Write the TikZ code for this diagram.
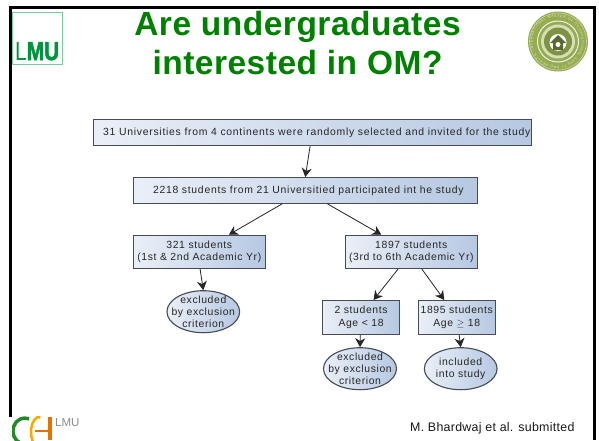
\documentclass[tikz,border=0pt]{standalone}
\usepackage{fontspec}
\usepackage{graphicx}
\setmainfont{Liberation Sans}
\newfontfamily\titlefont[LetterSpace=1.5]{Liberation Sans}
\newfontfamily\footfont[LetterSpace=2.3]{Liberation Sans}
\newfontfamily\flowfont[LetterSpace=6]{Liberation Sans}
\newfontfamily\flowwide[LetterSpace=7]{Liberation Sans}
\newfontfamily\lmuheavy[UprightFont=* Bold,FakeBold=2]{Liberation Sans}
\usetikzlibrary{calc,arrows.meta,shapes.geometric,decorations.text}
\definecolor{titlegreen}{RGB}{0,128,0}
\definecolor{lmugreen}{RGB}{0,148,64}
\definecolor{boxL}{RGB}{234,239,247}
\definecolor{boxR}{RGB}{182,200,226}
\definecolor{boxedge}{RGB}{70,75,85}
\definecolor{sealgreen}{RGB}{150,172,80}
\tikzset{
  flowbox/.style={draw=boxedge,line width=1.1pt,left color=boxL,right color=boxR,inner sep=0pt,anchor=north west,align=center,font=\flowfont\fontsize{10.4}{12.4}\selectfont,text=black!85},
  widebox/.style={flowbox,font=\flowwide\fontsize{10.4}{12.4}\selectfont},
  flowell/.style={ellipse,draw=boxedge,line width=1.1pt,left color=boxL,right color=boxR,inner xsep=-8pt,inner ysep=-6pt,align=center,font=\flowfont\fontsize{10.4}{12.3}\selectfont,text=black!85},
  flowarrow/.style={draw=black!85,line width=0.8pt,-{Stealth[length=9pt,width=10pt]}},
  titletext/.style={text=titlegreen,font=\titlefont\bfseries\fontsize{33.5}{33.5}\selectfont,inner sep=0pt,anchor=base}
}
\begin{document}
\begin{tikzpicture}[x=1pt,y=-1pt]
\useasboundingbox (0,0) rectangle (599,440);
\fill[white] (0,0) rectangle (599,440);
% slide frame
\fill[black] (9,6) rectangle (596,8.5);
\fill[black] (9,6) rectangle (12,417);
\fill[black] (592.8,6) rectangle (596,440);
% title
\node[titletext] (t1) at (297.5,35) {Are undergraduates};
\node[titletext] (t2) at (297.5,74) {interested in OM?};
% LMU logo
\node[draw=lmugreen!50,line width=0.7pt,minimum width=50pt,minimum height=51.5pt,inner sep=0pt] (lmubox) at (37.7,38.3) {};
\node[text=lmugreen,inner sep=0pt,anchor=south west] (lmutext) at (15,60.5) {\resizebox{44pt}{18pt}{\fontsize{24}{24}\selectfont L\lmuheavy MU}};
% seal
\fill[sealgreen] (558,41.5) circle (30);
\draw[white!50!sealgreen,line width=0.6pt] (558,41.5) circle (28.5);
\draw[white!85!sealgreen,line width=1pt] (558,41.5) circle (20.5);
\path[decorate,decoration={text along path,text align=fit to path,text={|\fontsize{3.4}{4}\selectfont\color{white!75!sealgreen}|INTERNATIONAL MASTER OF OCCUPATIONAL SAFETY AND HEALTH}}] (534,50) arc[start angle=160,end angle=510,radius=24.5];
\fill[white!60!sealgreen] (558,41.5) circle (17);
\fill[sealgreen!85!black] (558,41.5) circle (14);
\fill[white] (558,42.5) circle (8.5);
\fill[sealgreen!60!black] (550,43) -- (558,35) -- (566,43) -- (563,43) -- (563,50) -- (553,50) -- (553,43) -- cycle;
\fill[white] (558,44.5) circle (2.5);
% boxes
\node[widebox,minimum width=438.5pt,minimum height=26.3pt] (b1) at (92.5,118.7) {\hspace*{9pt}31 Universities from 4 continents were randomly selected and invited for the study};
\node[widebox,minimum width=343.5pt,minimum height=25.7pt] (b2) at (133,177) {\hspace*{6pt}2218 students from 21 Universitied participated int he study};
\node[flowbox,minimum width=131.5pt,minimum height=33.3pt] (b3) at (133,234.7) {321 students\\(1st \& 2nd Academic Yr)};
\node[flowbox,minimum width=131.5pt,minimum height=33.3pt] (b4) at (345,234.7) {1897 students\\(3rd to 6th Academic Yr)};
\node[flowbox,minimum width=77pt,minimum height=33.7pt] (b5) at (322,300) {2 students\\Age < 18};
\node[flowbox,minimum width=77pt,minimum height=33.7pt] (b6) at (417.7,300) {1895 students\\Age $\geq$ 18};
\node[flowell,minimum width=72.7pt,minimum height=42pt] (e1) at (203.3,311.7) {excluded\\by exclusion\\criterion};
\node[flowell,minimum width=73pt,minimum height=42pt] (e2) at (360,368.7) {excluded\\by exclusion\\criterion};
\node[flowell,minimum width=72.7pt,minimum height=42pt] (e3) at (460.7,368.7) {included\\into study};
% connectors
\draw[flowarrow] ($(b1.south west)!0.495!(b1.south east)$) -- ($(b2.north west)!0.5!(b2.north east)$);
\draw[flowarrow] ($(b2.south west)!0.433!(b2.south east)$) -- ($(b3.north west)!0.723!(b3.north east)$);
\draw[flowarrow] ($(b2.south west)!0.564!(b2.south east)$) -- ($(b4.north west)!0.274!(b4.north east)$);
\draw[flowarrow] ($(b3.south west)!0.506!(b3.south east)$) -- (e1.north);
\draw[flowarrow] ($(b4.south west)!0.40!(b4.south east)$) -- ($(b5.north west)!0.66!(b5.north east)$);
\draw[flowarrow] ($(b4.south west)!0.58!(b4.south east)$) -- ($(b6.north west)!0.34!(b6.north east)$);
\draw[flowarrow] ($(b5.south west)!0.49!(b5.south east)$) -- (e2.north);
\draw[flowarrow] ($(b6.south west)!0.53!(b6.south east)$) -- (e3.north);
% footer
\node[font=\footfont\fontsize{12.4}{12}\selectfont,anchor=base west,inner sep=0pt,text=black!90] (foot) at (410,431) {M. Bhardwaj et al. submitted};
% CH logo
\begin{scope}
\clip (12,410) rectangle (100,440);
\draw[green!45!black!85,line width=3.5pt] (29,418.8) arc[start angle=-70,end angle=-290,x radius=12,y radius=13];
\draw[orange!70!yellow,line width=2.5pt] (40.4,417.2) arc[start angle=-80,end angle=-280,x radius=8,y radius=15];
\draw[orange!90!black,line width=2.5pt] (35,431) -- (48,431);
\draw[orange!90!black,line width=4pt] (49.5,417) -- (49.5,440);
\end{scope}
\node[text=black!45,font=\fontsize{11.5}{12}\selectfont,anchor=base west,inner sep=0pt] (chl) at (55,426) {LMU};
\end{tikzpicture}
\end{document}
